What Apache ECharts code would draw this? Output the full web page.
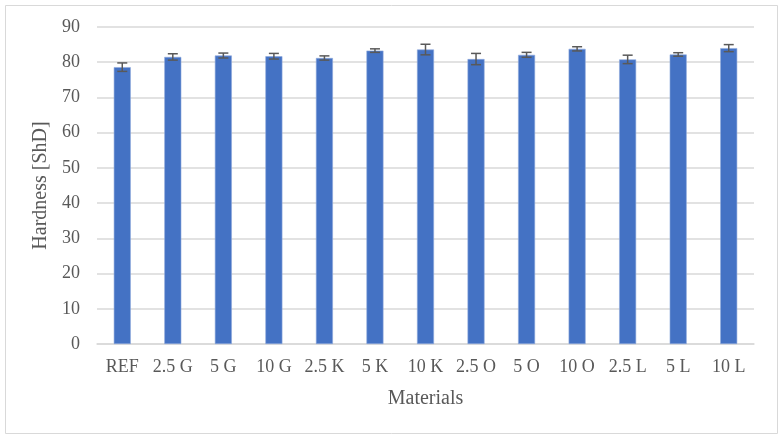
<!DOCTYPE html>
<html>
<head>
<meta charset="utf-8">
<script src="https://cdn.jsdelivr.net/npm/echarts@6/dist/echarts.min.js"></script>
<style>
  html, body { margin: 0; padding: 0; background: #fff; }
  #chart { width: 783px; height: 439px; }
</style>
</head>
<body>
<div id="chart"></div>
<script>
// materials and measured hardness
const materials = ['REF', '2.5 G', '5 G', '10 G', '2.5 K', '5 K', '10 K', '2.5 O', '5 O', '10 O', '2.5 L', '5 L', '10 L'];
const hardness = [78.6, 81.5, 81.9, 81.7, 81.2, 83.3, 83.6, 80.9, 82.1, 83.8, 80.8, 82.2, 84.0];
const hardnessErr = [1.2, 0.9, 0.7, 0.8, 0.6, 0.5, 1.5, 1.6, 0.7, 0.6, 1.2, 0.5, 1.0];
const yTicks = [0, 10, 20, 30, 40, 50, 60, 70, 80, 90];

const textColor = '#595959';
const font = '"Liberation Serif", "Times New Roman", serif';

// error bar data: [index, low, high]
let errData = [];
for (let i = 0; i < materials.length; i++) {
    errData.push([i, hardness[i] - hardnessErr[i], hardness[i] + hardnessErr[i]]);
}

function renderErr(params, api) {
    let x = api.value(0);
    let lo = api.coord([x, api.value(1)]);
    let hi = api.coord([x, api.value(2)]);
    let half = 5;
    let style = { stroke: '#595959', lineWidth: 1.5 };
    return {
        type: 'group',
        children: [
            { type: 'line', shape: { x1: hi[0], y1: hi[1], x2: lo[0], y2: lo[1] }, style: style },
            { type: 'line', shape: { x1: hi[0] - half, y1: hi[1], x2: hi[0] + half, y2: hi[1] }, style: style },
            { type: 'line', shape: { x1: lo[0] - half, y1: lo[1], x2: lo[0] + half, y2: lo[1] }, style: style }
        ]
    };
}

let option = {
    animation: false,
    backgroundColor: '#fff',
    textStyle: { fontFamily: font },
    graphic: [{
        type: 'rect',
        shape: { x: 5.5, y: 5.5, width: 772, height: 428 },
        style: { fill: 'none', stroke: '#d9d9d9', lineWidth: 1 },
        silent: true
    }],
    grid: { left: 97, right: 29, top: 27, bottom: 95 },
    xAxis: {
        type: 'category',
        data: materials,
        name: 'Materials',
        nameLocation: 'middle',
        nameGap: 45,
        nameTextStyle: { color: textColor, fontSize: 20, fontFamily: font },
        axisLine: { lineStyle: { color: '#d9d9d9', width: 1.5 } },
        axisTick: { show: false },
        axisLabel: { color: textColor, fontSize: 18, fontFamily: font, margin: 14, interval: 0 }
    },
    yAxis: {
        type: 'value',
        min: yTicks[0],
        max: yTicks[yTicks.length - 1],
        interval: 10,
        name: 'Hardness [ShD]',
        nameLocation: 'middle',
        nameGap: 40,
        nameTextStyle: { color: textColor, fontSize: 20, fontFamily: font },
        axisLine: { show: false },
        axisTick: { show: false },
        axisLabel: { color: textColor, fontSize: 18, fontFamily: font, margin: 17 },
        splitLine: { lineStyle: { color: '#d9d9d9', width: 1.5 } }
    },
    series: [{
        type: 'bar',
        data: hardness,
        barWidth: 17,
        itemStyle: { color: '#4472C4', borderColor: '#8faadc', borderWidth: 0.6 }
    }, {
        type: 'custom',
        renderItem: renderErr,
        data: errData,
        encode: { x: 0, y: [1, 2] },
        z: 10
    }]
};

echarts.init(document.getElementById('chart')).setOption(option);
</script>
</body>
</html>
